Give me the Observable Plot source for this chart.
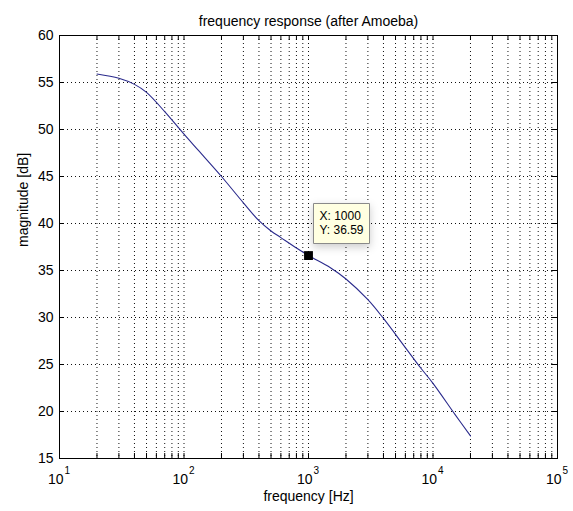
<!DOCTYPE html>
<html>
<head>
<meta charset="utf-8">
<script src="https://cdn.jsdelivr.net/npm/d3@7"></script>
<script src="https://cdn.jsdelivr.net/npm/@observablehq/plot@0.6"></script>
<style>
  body { margin: 0; background: #fff; }
</style>
</head>
<body>
<div id="chart"></div>
<script>
// Magnitude response samples: frequency in Hz, magnitude in dB
const freq = [20, 30, 40, 50, 70, 100, 130, 200, 300, 400, 500, 600, 800, 1000,
              1500, 2000, 3000, 4000, 6000, 8000, 10000, 15000, 20000];
const mag  = [55.9, 55.45, 54.8, 53.95, 51.9, 49.5, 47.8, 45.0, 42.2, 40.3, 39.2, 38.5, 37.4, 36.59,
              35.3, 34.1, 31.9, 29.9, 26.8, 24.6, 23.0, 19.7, 17.4];

// Data cursor readout
const cursorX = 1000;
const cursorY = 36.59;

// Axis ticks
const yTicks = [15, 20, 25, 30, 35, 40, 45, 50, 55, 60];
const decades = [10, 100, 1000, 10000, 100000];
const decadeExponents = ["1", "2", "3", "4", "5"];
const minorSteps = [2, 3, 4, 5, 6, 7, 8, 9];

const minorTicks = decades.slice(0, -1).flatMap(d => minorSteps.map(k => k * d));
const allXTicks = [...decades, ...minorTicks];
const innerXGrid = allXTicks.filter(v => v > 10 && v < 100000);
const innerYGrid = yTicks.filter(v => v > 15 && v < 60);

const response = freq.map((f, i) => ({f, m: mag[i]}));
const cursor = [{f: cursorX, m: cursorY}];

const W = 573, H = 511;
const mTop = 35, mBottom = 53, mLeft = 59, mRight = 16;
const innerW = W - mLeft - mRight;
const innerH = H - mTop - mBottom;
const tickLen = 5;
const gridStyle = {stroke: "#111", strokeDasharray: "1,3", strokeWidth: 1};

const chart = Plot.plot({
  width: W,
  height: H,
  marginTop: mTop,
  marginBottom: mBottom,
  marginLeft: mLeft,
  marginRight: mRight,
  style: {fontFamily: "'Liberation Sans', Arial, sans-serif", fontSize: "14px", color: "#000", background: "#fff"},
  x: {type: "log", domain: [10, 100000], axis: null},
  y: {domain: [15, 60], axis: null},
  marks: [
    // dotted grid
    Plot.ruleX(innerXGrid, {x: d => d, ...gridStyle}),
    Plot.ruleY(innerYGrid, {y: d => d, ...gridStyle}),
    // inward ticks on all four sides
    Plot.ruleX(allXTicks, {x: d => d, insetTop: innerH - tickLen, stroke: "#000"}),
    Plot.ruleX(allXTicks, {x: d => d, insetBottom: innerH - tickLen, stroke: "#000"}),
    Plot.ruleY(yTicks, {y: d => d, insetRight: innerW - tickLen, stroke: "#000"}),
    Plot.ruleY(yTicks, {y: d => d, insetLeft: innerW - tickLen, stroke: "#000"}),
    Plot.frame({stroke: "#000"}),
    // y tick labels
    Plot.text(yTicks, {x: 10, y: d => d, text: d => String(d), textAnchor: "end", dx: -6, fontSize: 14}),
    // x tick labels: base and superscript exponent
    Plot.text(decades, {x: d => d, frameAnchor: "bottom", text: () => "10", textAnchor: "end",
                        lineAnchor: "bottom", dx: 4, dy: 25, fontSize: 14}),
    Plot.text(decades, {x: d => d, frameAnchor: "bottom", text: (d, i) => decadeExponents[i], textAnchor: "start",
                        lineAnchor: "bottom", dx: 5, dy: 15, fontSize: 10}),
    // response curve
    Plot.line(response, {x: "f", y: "m", curve: "catmull-rom", stroke: "#2a2a8c", strokeWidth: 1.1}),
    // data cursor
    Plot.dot(cursor, {x: "f", y: "m", symbol: "square", r: 5, fill: "#000", stroke: "none"}),
    Plot.tip(cursor, {
      x: "f", y: "m",
      title: d => `X: ${d.f}\nY: ${d.m.toFixed(2)}`,
      anchor: "bottom-left", pointerSize: 0, dx: 5, dy: -12,
      fill: "#ffffe1", stroke: "#8a8a8a", textPadding: 6, lineHeight: 1.2, fontSize: 12
    }),
    // titles
    Plot.text(["frequency response (after Amoeba)"], {frameAnchor: "top", lineAnchor: "bottom", dy: -10, fontSize: 14}),
    Plot.text(["frequency [Hz]"], {frameAnchor: "bottom", lineAnchor: "bottom", dy: 42, fontSize: 14}),
    Plot.text(["magnitude [dB]"], {frameAnchor: "left", rotate: -90, dx: -36, fontSize: 14})
  ]
});

document.getElementById("chart").appendChild(chart);
</script>
</body>
</html>
